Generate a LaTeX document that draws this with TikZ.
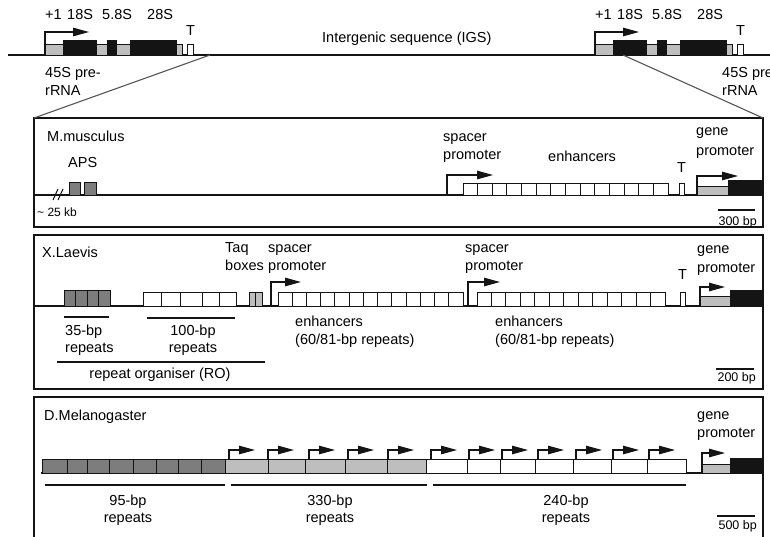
\documentclass[tikz,border=0pt]{standalone}
\usepackage{fontspec}
\setmainfont{Liberation Sans}
\usetikzlibrary{arrows.meta}
\definecolor{ink}{RGB}{20,20,20}
\definecolor{gDark}{RGB}{125,125,125}
\definecolor{gLight}{RGB}{190,190,190}
\definecolor{zoomc}{RGB}{85,85,85}

\begin{document}
\begin{tikzpicture}[
  x=1pt, y=-1pt,
  lab/.style={font=\fontsize{14.5}{16}\selectfont, inner sep=0pt, anchor=base west},
  mid/.style={lab, anchor=base},
  sml/.style={font=\fontsize{12.5}{14}\selectfont, inner sep=0pt, anchor=base east},
  kb/.style={font=\fontsize{12}{14}\selectfont, inner sep=0pt, anchor=base west},
  axis/.style={draw=ink, line width=1.5pt},
  panel/.style={draw=ink, line width=1.3pt, inner sep=0pt, outer sep=0pt, anchor=north west, minimum width=729pt},
  cell/.style={draw=ink, line width=0.9pt, fill=white},
  dcell/.style={cell, fill=gDark},
  lcell/.style={cell, fill=gLight},
  blk/.style={fill=ink},
  prom/.style={draw=ink, line width=1.1pt, -{Triangle[length=16pt, width=8.5pt]}},
  bar/.style={draw=ink, line width=1.2pt},
  zoomln/.style={draw=zoomc, line width=1.1pt},
]
\useasboundingbox (0,0) rectangle (770,536);
\clip (0,0) rectangle (770,536);

% ---- overview: two rDNA units and the IGS ----
\draw[axis] (8,55) -- (770,55);
\node[lab] (IGS) at (322,42) {Intergenic sequence (IGS)};

\foreach \dx/\k in {0/a,550/b}{
  \begin{scope}[xshift=\dx pt]
    \draw[prom] (45,55) |- (89,32);
    \draw[lcell] (45,44) rectangle (182,55);
    \fill[blk] (63,40) rectangle (97,55);
    \fill[blk] (107,40) rectangle (117,55);
    \fill[blk] (130,40) rectangle (177,55);
    \draw[cell] (187,44) rectangle (193,55);
    \node[lab] (p1\k) at (45,19) {+1};
    \node[lab] (s18\k) at (67,19) {18S};
    \node[lab] (s58\k) at (102,19) {5.8S};
    \node[lab] (s28\k) at (147,19) {28S};
    \node[lab] (T\k) at (186,35) {T};
  \end{scope}
}
\node[lab] (preA) at (45,77) {45S pre-};
\node[lab] (rnaA) at (45,95) {rRNA};
\node[lab] (preB) at (722,77) {45S pre-};
\node[lab] (rnaB) at (722,95) {rRNA};

% ---- the three species panels ----
\node[panel, minimum height=109pt] (MM) at (34,118) {};
\node[panel, minimum height=154pt] (XL) at (34,235) {};
\node[panel, minimum height=150pt] (DM) at (34,397) {};

% zoom lines
\coordinate (zl) at (210,55);
\coordinate (zr) at (623,55);
\draw[zoomln] (zl) -- (MM.north west);
\draw[zoomln] (zr) -- (MM.north east);

% ============ M.musculus ============
\node[lab] (mmName) at (47,141) {M.musculus};
\node[lab] (aps) at (68,167) {APS};
\draw[axis] (34,195) -- (763,195);
\draw[dcell] (69,182) rectangle (80,195);
\draw[dcell] (84,182) rectangle (96,195);
\draw[ink, line width=1pt] (53,200) -- (58,189) (58,200) -- (63,189);
\node[kb] (kb25) at (37,216) {\textasciitilde\ 25 kb};

\draw[prom] (447,195) |- (493,175);
\node[lab] (sp1) at (443,141) {spacer};
\node[lab] (pr1) at (443,159) {promoter};
\foreach \i in {0,...,13}
  \draw[cell] ({463+\i*14.64},183) rectangle ++(14.64,12);
\node[lab] (enh1) at (548,161) {enhancers};
\draw[cell] (679,183) rectangle (684,195);
\node[lab] (t1) at (677,172) {T};

\draw[prom] (697,195) |- (738,176);
\draw[lcell] (697,186) rectangle (728,195);
\fill[blk] (728,180) rectangle (763,195);
\node[lab] (gn1) at (696,135) {gene};
\node[lab] (gp1) at (696,155) {promoter};
\draw[bar] (718,210) -- (755,210);
\node[sml] (sc1) at (757,225) {300 bp};

% ============ X.Laevis ============
\node[lab] (xlName) at (42,257) {X.Laevis};
\draw[axis] (34,306) -- (763,306);
\foreach \a in {64,75.5,87,98.5}
  \draw[dcell] (\a,290) rectangle ++(11.5,16);
\foreach \a/\b in {143/161,161/180,180/202,202/219,219/236}
  \draw[cell] (\a,292) rectangle (\b,306);
\draw[lcell] (249,292) rectangle (255.5,306);
\draw[lcell] (255.5,292) rectangle (262,306);
\node[lab] (taq) at (225,252) {Taq};
\node[lab] (tbox) at (225,270) {boxes};

\draw[prom] (271,306) |- (301,282);
\node[lab] (sp2) at (268,252) {spacer};
\node[lab] (pr2) at (268,270) {promoter};
\foreach \i in {0,...,12}
  \draw[cell] ({278+\i*14.23},292) rectangle ++(14.23,14);

\draw[prom] (468,306) |- (500,282);
\node[lab] (sp3) at (465,252) {spacer};
\node[lab] (pr3) at (465,270) {promoter};
\foreach \i in {0,...,12}
  \draw[cell] ({477+\i*14.46},292) rectangle ++(14.46,14);
\draw[cell] (680,292) rectangle (685,306);
\node[lab] (t2) at (678,279) {T};

\draw[prom] (700,306) |- (725,287);
\draw[lcell] (700,296) rectangle (730,306);
\fill[blk] (730,290) rectangle (763,306);
\node[lab] (gn2) at (697,253) {gene};
\node[lab] (gp2) at (697,272) {promoter};

\draw[bar] (64,317) -- (109,317);
\draw[bar] (147,318) -- (235,318);
\draw[bar] (57,362) -- (265,362);
\node[lab] (r35) at (65,335) {35-bp};
\node[lab] (r35b) at (65,352) {repeats};
\node[mid] (r100) at (193,335) {100-bp};
\node[mid] (r100b) at (193,352) {repeats};
\node[mid] (ro) at (160,378) {repeat organiser (RO)};
\node[lab] (enh2) at (295,326) {enhancers};
\node[lab] (enh2b) at (295,344) {(60/81-bp repeats)};
\node[lab] (enh3) at (495,326) {enhancers};
\node[lab] (enh3b) at (495,344) {(60/81-bp repeats)};
\draw[bar] (716,369) -- (754,369);
\node[sml] (sc2) at (756,381) {200 bp};

% ============ D.Melanogaster ============
\node[lab] (dmName) at (44,420) {D.Melanogaster};
\draw[axis] (41,473) -- (763,473);
\foreach \a/\b in {42/67,67/87,87/109,109/133,133/156,156/178,178/201,201/225}
  \draw[dcell] (\a,459) rectangle (\b,473);
\foreach \a/\b in {225/268,268/305,305/345,345/387,387/426}
  \draw[lcell] (\a,459) rectangle (\b,473);
\foreach \a/\b in {426/467,467/500,500/535,535/573,573/611,611/647,647/686}
  \draw[cell] (\a,459) rectangle (\b,473);
\foreach \x in {229,268,309,348,388,431,469,502,538,576,613,649}
  \draw[prom] (\x,459) |- ({\x+26},450);

\draw[prom] (702,473) |- (725,453);
\draw[lcell] (702,464) rectangle (730,473);
\fill[blk] (730,458) rectangle (763,473);
\node[lab] (gn3) at (697,419) {gene};
\node[lab] (gp3) at (697,437) {promoter};

\draw[bar] (45,485) -- (225,485);
\draw[bar] (231,485) -- (427,485);
\draw[bar] (433,485) -- (686,485);
\node[mid] (r95) at (128,505) {95-bp};
\node[mid] (r95b) at (128,522) {repeats};
\node[mid] (r330) at (330,505) {330-bp};
\node[mid] (r330b) at (330,522) {repeats};
\node[mid] (r240) at (566,505) {240-bp};
\node[mid] (r240b) at (566,522) {repeats};
\draw[bar] (717,516) -- (755,516);
\node[sml] (sc3) at (757,529) {500 bp};

\end{tikzpicture}
\end{document}
